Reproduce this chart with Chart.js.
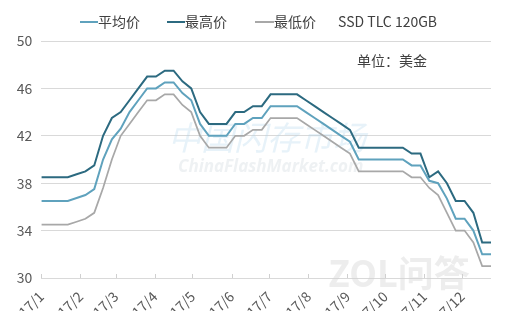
<!DOCTYPE html>
<html><head><meta charset="utf-8">
<script src="https://cdn.jsdelivr.net/npm/chart.js@4.4.0/dist/chart.umd.min.js"></script>
<style>html,body{margin:0;padding:0;background:#fff;overflow:hidden}#wrap{width:506px;height:311px;position:relative}</style>
</head><body><div id="wrap"><canvas id="c" width="506" height="311"></canvas></div>
<script>
// weekly samples, day offset from 2017-01-01
const weekDays = [0,7,14,21,28,35,42,49,56,63,70,77,84,91,98,105,112,119,126,133,140,147,154,161,168,175,182,189,196,203,210,217,224,231,238,245,252,259,266,273,280,287,294,301,308,315,322,329,336,343,350,357];
const avgPrice = [36.5,36.5,36.5,36.5,36.75,37,37.5,40,41.7,42.6,44,45,46,46,46.5,46.5,45.6,45,43,42,42,42,43,43,43.5,43.5,44.5,44.5,44.5,44.5,44,43.5,43,42.5,42,41.5,40,40,40,40,40,40,39.5,39.5,38.2,38,36.7,35,35,34,32,32];
const maxPrice = [38.5,38.5,38.5,38.5,38.75,39,39.5,42,43.5,44,45,46,47,47,47.5,47.5,46.6,46,44,43,43,43,44,44,44.5,44.5,45.5,45.5,45.5,45.5,45,44.5,44,43.5,43,42.5,41,41,41,41,41,41,40.5,40.5,38.5,39,38,36.5,36.5,35.5,33,33];
const minPrice = [34.5,34.5,34.5,34.5,34.75,35,35.5,37.6,40,42,43,44,45,45,45.5,45.5,44.6,44,42,41,41,41,42,42,42.5,42.5,43.5,43.5,43.5,43.5,43,42.5,42,41.5,41,40.5,39,39,39,39,39,39,38.5,38.5,37.6,37,35.5,34,34,33,31,31];
const monthDays = [0,31,59,90,120,151,181,212,243,273,304,334];
const monthLabels = ['2017/1','2017/2','2017/3','2017/4','2017/5','2017/6','2017/7','2017/8','2017/9','2017/10','2017/11','2017/12'];
const seriesNames = ['平均价','最高价','最低价'];
const seriesColors = ['#5fa2bd','#2c6a80','#a8a8a8'];
const yTicks = [30,34,38,42,46,50];

const CJK = '"Noto Sans CJK SC", "Noto Sans", sans-serif';
const pts = arr => arr.map((v,i)=>({x:weekDays[i], y:v}));

const decor = {
  id:'decor',
  beforeDatasetsDraw(chart){
    const ctx = chart.ctx;
    ctx.save();
    ctx.textBaseline='alphabetic';
    ctx.font = 'italic 33px ' + CJK;
    ctx.fillStyle = 'rgba(175,212,234,0.3)';
    ctx.fillText('中国闪存市场', 168, 150);
    ctx.font = 'italic bold 17px "Open Sans", sans-serif';
    ctx.fillStyle = 'rgba(200,208,216,0.3)';
    ctx.fillText('ChinaFlashMarket.com', 178, 172);
    ctx.font = 'bold 36px ' + CJK;
    ctx.fillStyle = 'rgba(210,210,210,0.4)';
    ctx.fillText('ZOL问答', 328, 287);
    ctx.restore();
  },
  afterDraw(chart){
    const ctx = chart.ctx, xs = chart.scales.x, a = chart.chartArea;
    ctx.save();
    ctx.strokeStyle = '#d0d0d0'; ctx.lineWidth = 1;
    xs.ticks.forEach(t=>{
      const px = Math.round(xs.getPixelForValue(t.value))+0.5;
      ctx.beginPath(); ctx.moveTo(px, a.bottom-4); ctx.lineTo(px, a.bottom); ctx.stroke();
    });
    // legend
    ctx.font = '14px ' + CJK;
    ctx.textBaseline = 'middle';
    ctx.fillStyle = '#404040';
    const items = [[80,98],[167,185],[255,274]];
    items.forEach((it,i)=>{
      ctx.strokeStyle = seriesColors[i]; ctx.lineWidth = 2;
      ctx.beginPath(); ctx.moveTo(it[0],22); ctx.lineTo(it[1],22); ctx.stroke();
      ctx.fillText(seriesNames[i], it[1], 22);
    });
    ctx.fillText('SSD TLC 120GB', 338, 22);
    ctx.fillText('单位：美金', 357, 61);
    ctx.restore();
  }
};

new Chart(document.getElementById('c'), {
  type:'line',
  data:{datasets:[
    {label:seriesNames[0], data:pts(avgPrice), borderColor:seriesColors[0], borderWidth:2},
    {label:seriesNames[1], data:pts(maxPrice), borderColor:seriesColors[1], borderWidth:2},
    {label:seriesNames[2], data:pts(minPrice), borderColor:seriesColors[2], borderWidth:1.75}
  ]},
  options:{
    responsive:false, animation:false, devicePixelRatio:1,
    elements:{point:{radius:0}, line:{tension:0, fill:false}},
    layout:{padding:{top:41,left:0,right:15,bottom:0}},
    plugins:{legend:{display:false}, tooltip:{enabled:false}},
    scales:{
      x:{type:'linear', min:0, max:357,
        afterBuildTicks:s=>{s.ticks = monthDays.map(v=>({value:v}));},
        afterFit:s=>{s.height = 33;},
        grid:{display:false, drawTicks:false}, border:{display:false},
        ticks:{autoSkip:false, minRotation:45, maxRotation:45, padding:10, color:'#595959',
          font:{size:14, family:CJK},
          callback:(v)=>monthLabels[monthDays.indexOf(v)]}
      },
      y:{min:30, max:50,
        afterBuildTicks:s=>{s.ticks = yTicks.map(v=>({value:v}));},
        afterFit:s=>{s.width = 41;},
        grid:{color:'#d9d9d9', drawTicks:false}, border:{display:false},
        ticks:{padding:9, color:'#595959', font:{size:14, family:CJK}}
      }
    }
  },
  plugins:[decor]
});
</script></body></html>
